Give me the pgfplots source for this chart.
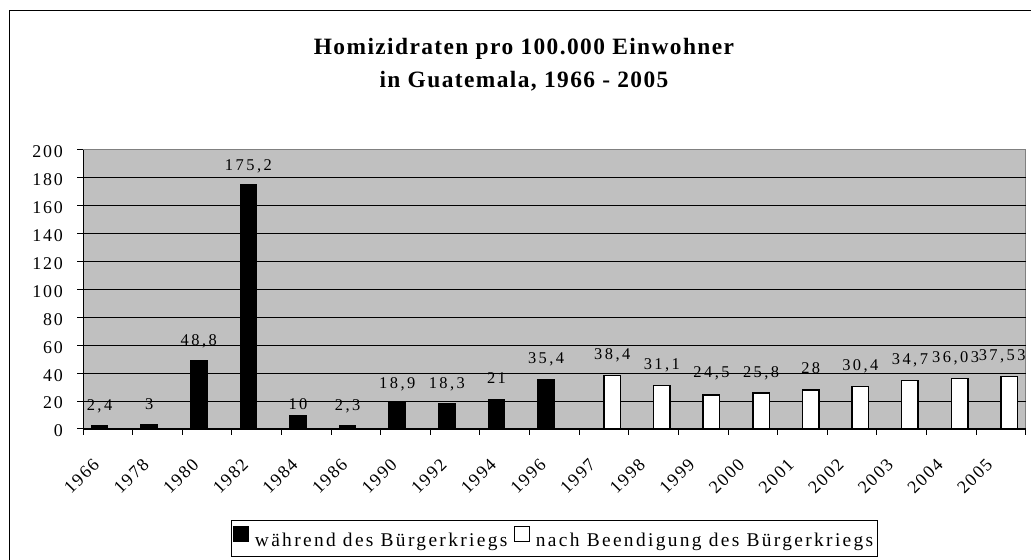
\documentclass[border=0pt]{standalone}
\usepackage{fontspec}
\setmainfont{Liberation Serif}
\newfontfamily\tickfont[LetterSpace=10]{Liberation Serif}
\newfontfamily\legfont[LetterSpace=12]{Liberation Serif}
\newfontfamily\labfont[LetterSpace=15]{Liberation Serif}
\newfontfamily\titlefont[LetterSpace=6]{Liberation Serif}
\usepackage{pgfplots}
\usepackage{pgfplotstable}
\pgfplotsset{compat=1.18}
\definecolor{plotgray}{HTML}{C0C0C0}
\definecolor{bordergray}{HTML}{808080}

\pgfplotstableread{
x y lab dy dx
0 2.4 2,4 15 0
1 3 3 15 0
2 48.8 48,8 15 0
3 175.2 175,2 14 0
4 10 10 6 0
5 2.3 2,3 15 0
6 18.9 18,9 14 0
7 18.3 18,3 15 0
8 21 21 16 0
9 35.4 35,4 16 0
}\during

\pgfplotstableread{
x y lab dy dx
10 38.4 38,4 16 0
11 31.1 31,1 16 0
12 24.5 24,5 17 0
13 25.8 25,8 16 0
14 28 28 16 0
15 30.4 30,4 16 0
16 34.7 34,7 16 0
17 36.03 36,03 16 -4
18 37.53 37,53 16 -7
}\after

\begin{document}
\begin{tikzpicture}[x=1bp,y=1bp]
\path[use as bounding box] (0,0) rectangle (1031,560);
\draw[line width=1bp, black] (9,-5) -- (9,549) -- (1040,549);
\node[anchor=base, inner sep=0pt, font=\titlefont\bfseries\fontsize{23.5}{28}\selectfont] at (524,505) {Homizidraten pro 100.000 Einwohner};
\node[anchor=base, inner sep=0pt, font=\titlefont\bfseries\fontsize{23.5}{28}\selectfont] at (524,472.7) {in Guatemala, 1966 - 2005};
\begin{axis}[
  scale only axis, width=942.7bp, height=279bp,
  at={(83bp,131bp)}, anchor=south west,
  xmin=-0.5, xmax=18.5, ymin=0, ymax=200,
  axis x line*=bottom, axis y line*=left,
  axis line style={-, black, line width=1bp},
  axis background/.style={fill=plotgray, draw=bordergray, line width=1bp},
  ytick={0,20,...,180},
  extra y ticks={200},
  extra y tick style={grid=none},
  ymajorgrids,
  grid style={black, line width=0.9bp},
  xtick={-0.5,0.5,...,18.5},
  xticklabels={},
  extra x ticks={-0.32,0.68,1.68,2.68,3.68,4.68,5.68,6.68,7.68,8.68,9.68,10.68,11.68,12.68,13.68,14.68,15.68,16.68,17.68},
  extra x tick labels={1966,1978,1980,1982,1984,1986,1990,1992,1994,1996,1997,1998,1999,2000,2001,2002,2003,2004,2005},
  extra x tick style={major tick length=0pt, grid=none},
  tick align=outside,
  major tick length=6bp,
  tick style={black, line width=1bp},
  /pgf/number format/assume math mode=true,
  ticklabel style={font=\tickfont\fontsize{18}{20}\selectfont, inner sep=0pt},
  yticklabel style={anchor=east, xshift=-14bp, yshift=-2bp},
  xticklabel style={yshift=-28bp, rotate=45, anchor=north east},
  clip=false,
  ybar,
  bar width=0.333,
  point meta=explicit symbolic,
  nodes near coords,
  visualization depends on={\thisrow{dy} \as \labdy},
  visualization depends on={\thisrow{dx} \as \labdx},
  nodes near coords style={font=\labfont\fontsize{16.5}{18}\selectfont, anchor=base, inner sep=0pt, yshift=\labdy bp, xshift=\labdx bp},
  legend columns=2,
  legend style={at={(0.5,-0.326)}, anchor=north, draw=black, line width=1bp,
    font=\legfont\fontsize{19.5}{21}\selectfont, inner xsep=2bp, inner ysep=6bp,
    /tikz/every even column/.append style={column sep=5bp}},
]
\addplot[fill=black, draw=black, line width=1bp, bar shift=-0.1667,
  legend image code/.code={\draw[fill=black, draw=black, line width=1bp] (0bp,-1bp) rectangle (15bp,14bp); \path[draw=none, fill=none] (0bp,0bp) -- (19bp,0bp);}]
  table[x=x, y=y, meta=lab] {\during};
\addlegendentry{während des Bürgerkriegs}
\addplot[fill=white, draw=black, line width=1.5bp, bar shift=0.1667,
  legend image code/.code={\draw[fill=white, draw=black, line width=1bp] (0bp,-1bp) rectangle (15bp,14bp); \path[draw=none, fill=none] (0bp,0bp) -- (19bp,0bp);}]
  table[x=x, y=y, meta=lab] {\after};
\addlegendentry{nach Beendigung des Bürgerkriegs}
\end{axis}
\end{tikzpicture}
\end{document}
